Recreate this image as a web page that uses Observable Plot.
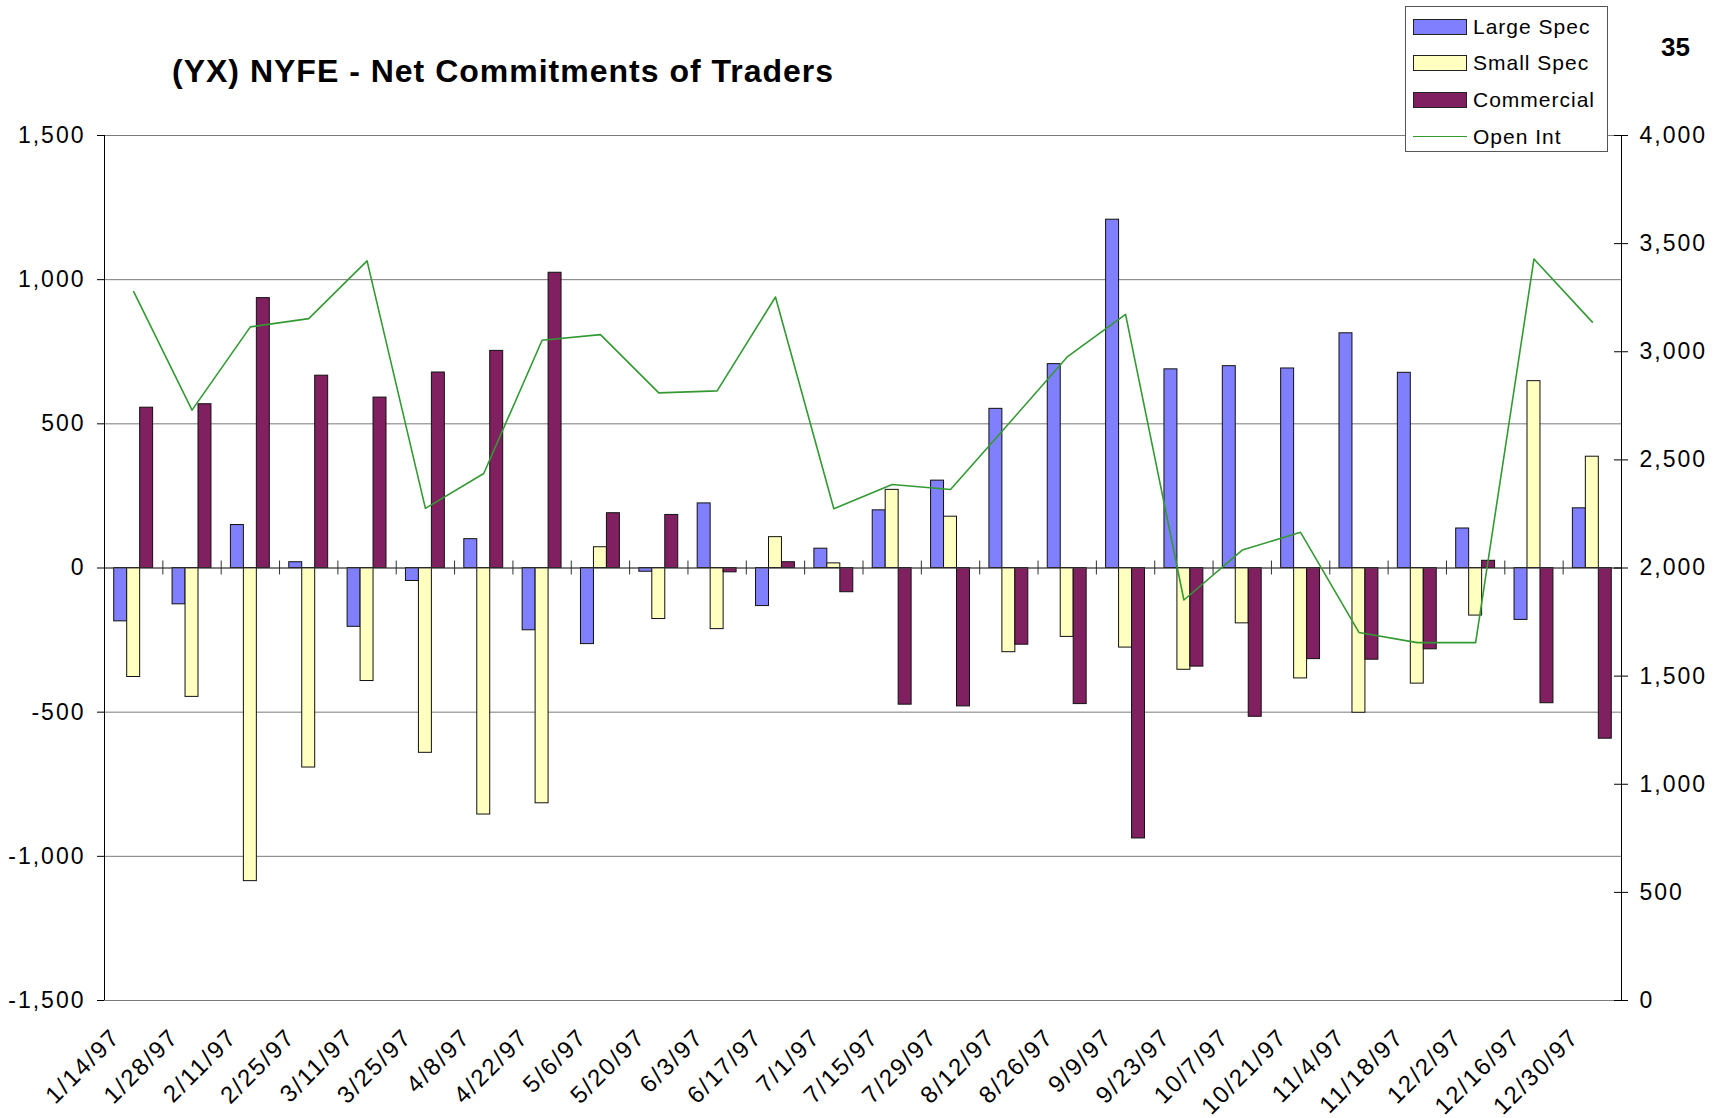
<!DOCTYPE html>
<html>
<head>
<meta charset="utf-8">
<script src="https://cdn.jsdelivr.net/npm/d3@7"></script>
<script src="https://cdn.jsdelivr.net/npm/@observablehq/plot@0.6"></script>
<style>
html, body { margin: 0; padding: 0; background: #fff; }
#wrap { position: relative; width: 1718px; height: 1118px; font-family: "Liberation Sans", Arial, sans-serif; color: #000; overflow: hidden; }
#chart { position: absolute; left: 0; top: 0; }
#chart svg text { letter-spacing: 2px; }
#title { position: absolute; left: 172px; top: 55px; font-size: 32px; line-height: 32px; font-weight: bold; letter-spacing: 1px; white-space: nowrap; }
#page { position: absolute; left: 1661px; top: 34px; font-size: 26px; line-height: 26px; font-weight: bold; }
#legend { position: absolute; left: 1405px; top: 6px; width: 203px; height: 146px; box-sizing: border-box; border: 1px solid #555; background: #fff; }
.row { position: absolute; left: 0; height: 26px; display: flex; align-items: center; }
.sw { position: absolute; left: 7px; width: 54px; height: 16px; box-sizing: border-box; border: 1px solid #222; }
.ln { position: absolute; left: 7px; width: 54px; height: 0; border-top: 1.5px solid #339933; }
.lt { position: absolute; left: 67px; font-size: 21px; line-height: 26px; letter-spacing: 1px; white-space: nowrap; }
</style>
</head>
<body>
<div id="wrap">
  <div id="chart"></div>
  <div id="title">(YX) NYFE - Net Commitments of Traders</div>
  <div id="page">35</div>
  <div id="legend"></div>
</div>
<script>
// ---- Data ----
const dates = ["1/14/97","1/28/97","2/11/97","2/25/97","3/11/97","3/25/97","4/8/97","4/22/97","5/6/97","5/20/97","6/3/97","6/17/97","7/1/97","7/15/97","7/29/97","8/12/97","8/26/97","9/9/97","9/23/97","10/7/97","10/21/97","11/4/97","11/18/97","12/2/97","12/16/97","12/30/97"];
const largeSpec  = [-185,-126,149,20,-204,-45,100,-216,-264,-13,224,-132,67,200,303,552,707,1208,689,700,692,814,677,137,-180,207];
const smallSpec  = [-378,-447,-1086,-692,-392,-641,-855,-816,72,-177,-212,107,16,271,178,-292,-239,-276,-353,-192,-383,-502,-401,-165,648,386];
const commercial = [556,568,936,667,591,678,753,1024,190,184,-15,20,-84,-474,-480,-266,-472,-938,-342,-516,-316,-318,-282,25,-469,-592];
const openInt    = [3278,2730,3115,3153,3420,2276,2437,3053,3079,2810,2819,3253,2274,2386,2363,2668,2976,3173,1852,2083,2165,1702,1655,1655,3429,3137];
const seriesNames = ["Large Spec","Small Spec","Commercial"];
const leftTicks  = [-1500,-1000,-500,0,500,1000,1500];
const rightTicks = [0,500,1000,1500,2000,2500,3000,3500,4000];

// ---- Styles ----
const colors = ["#8080ff","#ffffc0","#802060"];
const lineColor = "#339933";

// Right axis (Open Int 0..4000) mapped onto the left scale (-1500..1500)
const toLeft = v => v * 0.75 - 1500;
const fmt = v => (v < 0 ? "-" : "") + d3.format(",")(Math.abs(Math.round(v)));

const seriesValues = [largeSpec, smallSpec, commercial];
const rows = dates.flatMap((d, i) => seriesValues.map((vals, k) => ({i, k, series: seriesNames[k], value: vals[i]})));
const n = dates.length;
const barW = 1 / 4.5;

const plot = Plot.plot({
  width: 1718,
  height: 1118,
  marginLeft: 104,
  marginRight: 97,
  marginTop: 135,
  marginBottom: 118,
  x: {domain: [0, n], axis: null},
  y: {domain: [-1500, 1500], axis: null},
  style: {fontFamily: '"Liberation Sans", Arial, sans-serif', fontSize: "23px", color: "#000", background: "transparent", overflow: "visible"},
  marks: [
    Plot.ruleY(leftTicks, {stroke: "#7a7a7a", strokeWidth: 1}),
    Plot.rect(rows, {
      x1: d => d.i + 0.5 + (d.k - 1.5) * barW,
      x2: d => d.i + 0.5 + (d.k - 0.5) * barW,
      y1: 0, y2: "value",
      fill: d => colors[d.k], stroke: "#111", strokeWidth: 1
    }),
    Plot.ruleY([0], {stroke: "#444"}),
    Plot.ruleX(d3.range(1, n), {y1: 0, y2: 0, insetTop: -7, insetBottom: -7, stroke: "#333"}),
    Plot.line(openInt, {x: (d, i) => i + 0.5, y: d => toLeft(d), stroke: lineColor, strokeWidth: 1.6}),
    Plot.ruleX([0, n], {stroke: "#000", strokeWidth: 1}),
    Plot.axisY(leftTicks, {anchor: "left", tickSize: 7, tickPadding: 12, tickFormat: fmt, label: null, fontSize: 23}),
    Plot.ruleY(rightTicks.map(toLeft), {x1: n, x2: n, insetLeft: -7, insetRight: -7, stroke: "#000"}),
    Plot.axisY(rightTicks.map(toLeft), {anchor: "right", tickSize: 0, tickPadding: 18, tickFormat: d => fmt((d + 1500) / 0.75), label: null, fontSize: 23}),
    Plot.text(dates, {x: (d, i) => i + 0.5, text: d => d, frameAnchor: "bottom", rotate: -45, textAnchor: "end", dx: -12, dy: 38, fontSize: 24})
  ]
});
document.getElementById("chart").appendChild(plot);

// Legend
const legend = document.getElementById("legend");
const centers = [20, 56, 93, 130];
[...seriesNames, "Open Int"].forEach((name, j) => {
  const row = document.createElement("div");
  row.className = "row";
  row.style.top = (centers[j] - 13) + "px";
  row.style.width = "100%";
  const mark = document.createElement("div");
  if (j < 3) {
    mark.className = "sw";
    mark.style.background = colors[j];
    mark.style.top = "5px";
  } else {
    mark.className = "ln";
    mark.style.top = "12px";
  }
  const t = document.createElement("div");
  t.className = "lt";
  t.textContent = name;
  t.style.top = "0px";
  row.appendChild(mark);
  row.appendChild(t);
  legend.appendChild(row);
});
</script>
</body>
</html>
